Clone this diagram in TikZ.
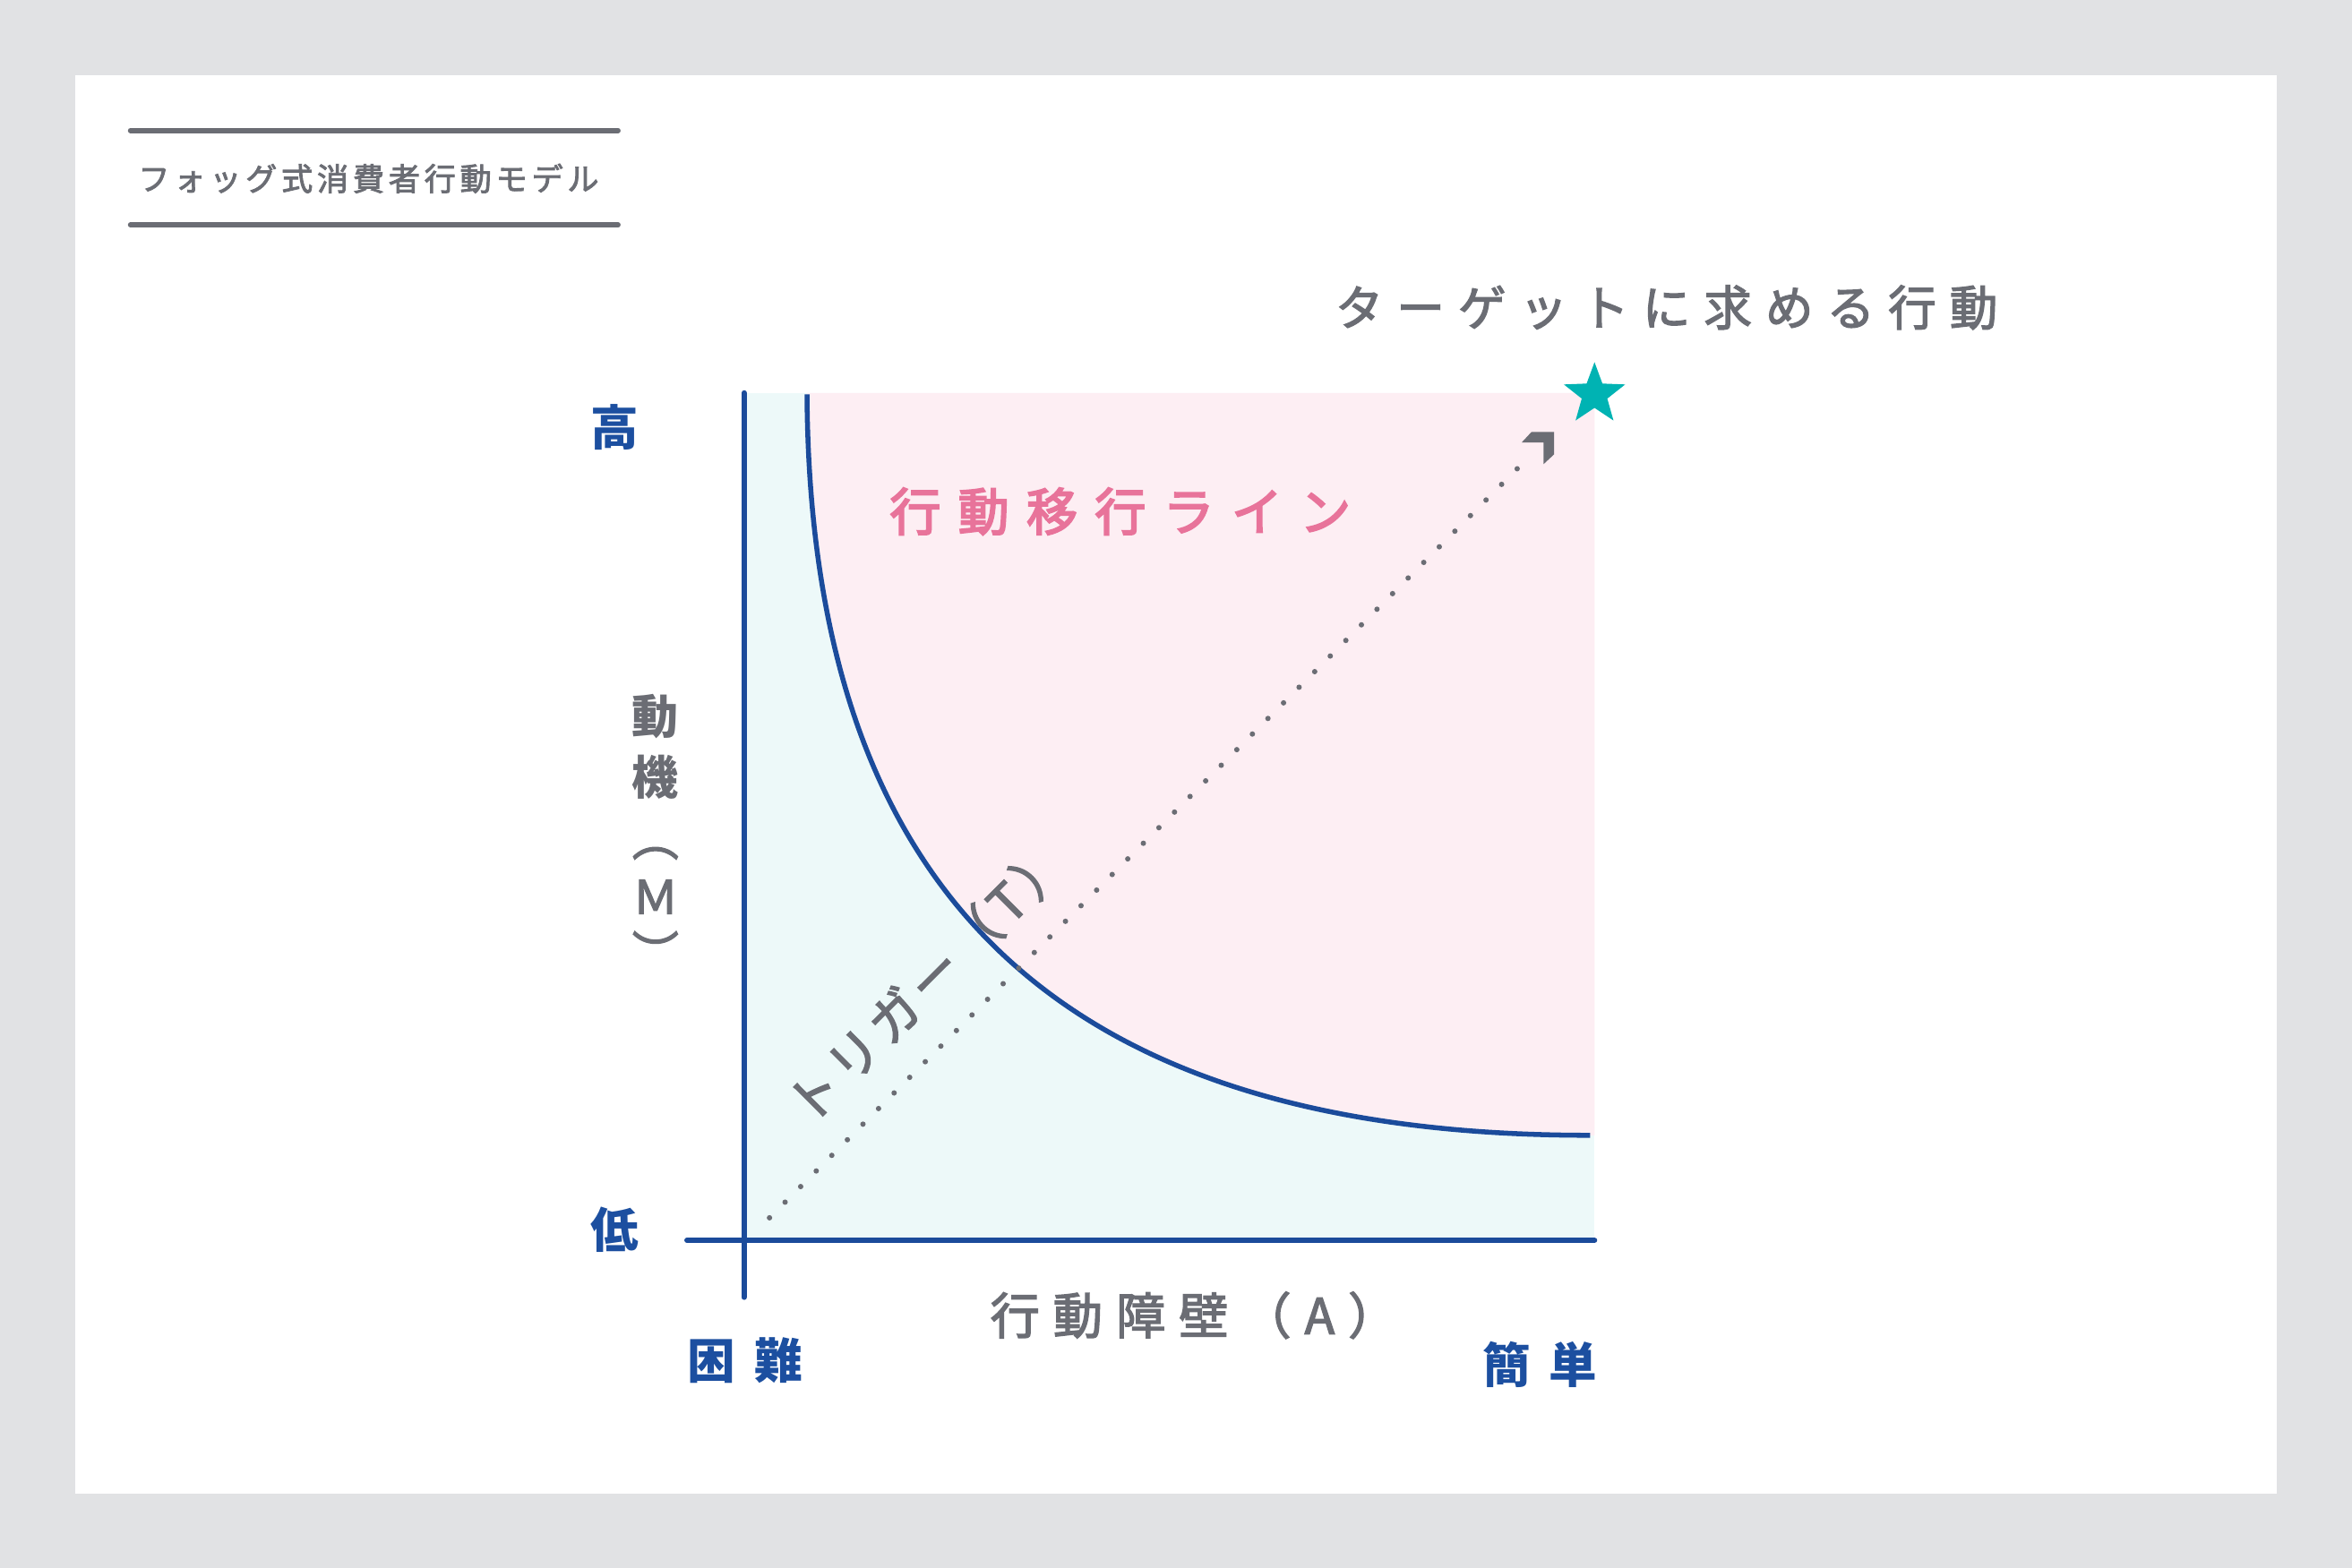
\documentclass[tikz,border=0pt]{standalone}
\usepackage{fontspec}
\setmainfont{Noto Sans CJK JP}
\usetikzlibrary{shapes.geometric}
\definecolor{bg}{HTML}{E1E2E4}
\definecolor{tgray}{HTML}{6B6D74}
\definecolor{axblue}{HTML}{1B4B9B}
\definecolor{lblblue}{HTML}{1C4FA0}
\definecolor{pinkfill}{HTML}{FDEEF3}
\definecolor{bluefill}{HTML}{EDF9F9}
\definecolor{pinktxt}{HTML}{E8739A}
\definecolor{starteal}{HTML}{00B3B3}
\tikzset{
  rule/.style={line width=3.5, draw=tgray, line cap=round},
  axis/.style={line width=3.6, draw=axblue, line cap=round},
  curveline/.style={line width=3.3, draw=axblue},
  txt/.style={inner sep=0, text=tgray},
  titletxt/.style={txt, anchor=west, font=\fontsize{21}{24}\selectfont\addfontfeature{LetterSpace=13.5,FakeBold=2.5}},
  goaltxt/.style={txt, anchor=west, font=\fontsize{32}{36}\selectfont\addfontfeature{LetterSpace=28,FakeBold=2.5}},
  linetxt/.style={inner sep=0, anchor=west, text=pinktxt, font=\fontsize{34}{38}\selectfont\addfontfeature{LetterSpace=34,FakeBold=3.5}},
  xtxt/.style={txt, anchor=west, font=\fontsize{33}{36}\selectfont\addfontfeature{LetterSpace=27,FakeBold=2.5}},
  ytxt/.style={txt, font=\fontsize{31}{34}\selectfont\bfseries},
  yparen/.style={txt, font=\fontsize{31}{34}\selectfont\addfontfeature{FakeBold=2.5}},
  bluelbl/.style={inner sep=0, text=lblblue, font=\fontsize{32}{36}\selectfont\bfseries},
  bluepair/.style={bluelbl, anchor=west, font=\fontsize{32}{36}\selectfont\bfseries\addfontfeature{LetterSpace=40}},
  trigtxt/.style={txt, rotate=45, font=\fontsize{34}{38}\selectfont\addfontfeature{LetterSpace=11,FakeBold=2.5}},
  dotline/.style={line width=3.6, draw=tgray, line cap=round, dash pattern=on 0pt off 14.7pt},
}
\begin{document}
\begin{tikzpicture}[x=1pt,y=-1pt]
\useasboundingbox (0,0) rectangle (1568,1045.5);
\fill[bg] (0,0) rectangle (1568,1045.5);
\fill[white] (50,50) rectangle (1518,996);

% title
\draw[rule] (87,87) -- (412,87);
\draw[rule] (87,150) -- (412,150);
\node[titletxt] (title) at (92,119) {フォッグ式消費者行動モデル};

% regions
\fill[bluefill] (496,262) rectangle (1063,827);
\fill[pinkfill] (538,262) .. controls (540,600) and (710,757) .. (1060,757) -- (1063,757) -- (1063,262) -- cycle;

% curve
\draw[curveline] (538,263) .. controls (540,600) and (710,757) .. (1060,757);

% axes
\draw[axis] (496,262) -- (496,865);
\draw[axis] (458,827) -- (1063,827);

% trigger dotted arrow
\coordinate (tstart) at (513,812);
\coordinate (tend) at (1021,303);
\coordinate (ttip) at (1036,288);
\draw[dotline] (tstart) -- (tend);
\fill[tgray] (ttip) ++(-15,0) -- (ttip) -- ++(0,15) -- ++(-7,6.5) -- ++(0,-14.5) -- ++(-14.5,0) -- cycle;

% star
\node[star, star points=5, star point ratio=2.4, fill=starteal, minimum size=43, inner sep=0] (goalstar) at (1063,263) {};

% texts
\node[goaltxt] (goal) at (890,205) {ターゲットに求める行動};
\node[linetxt] (bline) at (593,341) {行動移行ライン};
\node[xtxt] (xlab) at (660,877) {行動障壁（A）};
\node[bluelbl] (hi) at (410,285) {高};
\node[bluelbl] (lo) at (410,820) {低};
\node[bluepair] (hard) at (458,907) {困難};
\node[bluepair] (easy) at (988,910) {簡単};
\node[ytxt] (y1) at (437,478) {動};
\node[ytxt] (y2) at (437,518) {機};
\node[yparen] (y3) at (437,569) {︵};
\node[yparen] (y4) at (437,598) {Ｍ};
\node[yparen] (y5) at (437,634) {︶};
\node[trigtxt] (trig) at (618,655) {トリガー（T）};
\end{tikzpicture}
\end{document}
